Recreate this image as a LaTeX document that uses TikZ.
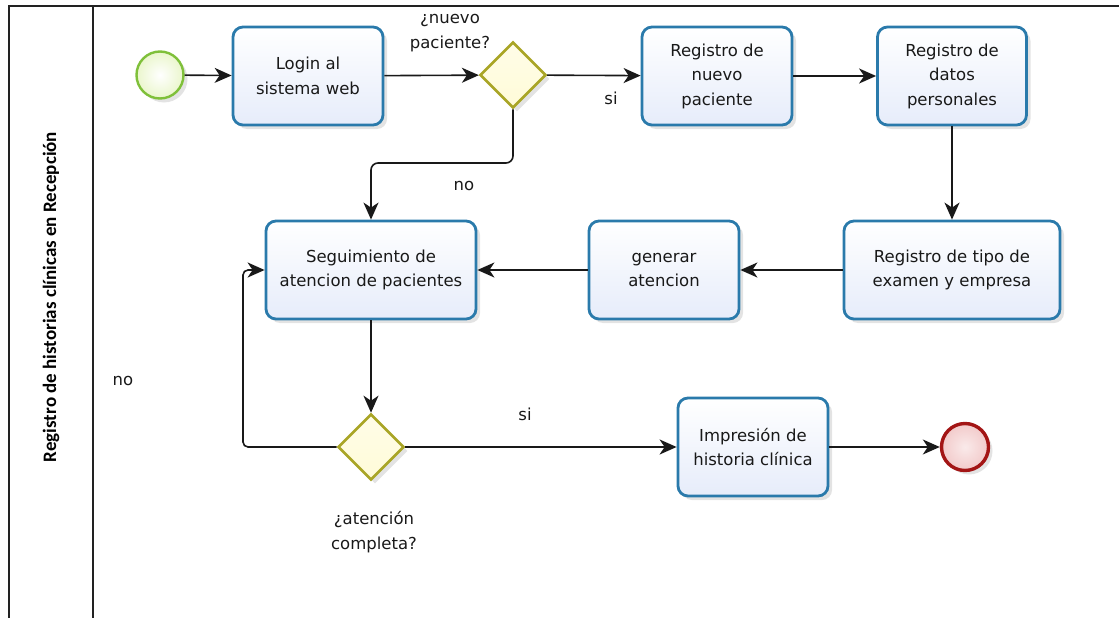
\documentclass[tikz,border=0pt]{standalone}
\usepackage{fontspec}
\setmainfont{DejaVu Sans}
\newfontfamily\lanefont{Carlito}
\usetikzlibrary{shapes.geometric,arrows.meta,shadows}
\definecolor{taskborder}{HTML}{2A7AAB}
\definecolor{taskfill}{HTML}{E6ECFA}
\definecolor{startborder}{HTML}{7FC03A}
\definecolor{startfill}{HTML}{EAF6CC}
\definecolor{gwborder}{HTML}{A9A526}
\definecolor{gwfill}{HTML}{FFFBD8}
\definecolor{endborder}{HTML}{A31515}
\definecolor{endfill}{HTML}{F2CACA}
\definecolor{frame}{HTML}{222222}
\begin{document}
\begin{tikzpicture}[x=1pt,y=-1pt,
  txt/.style={font=\fontsize{16.5}{24.5}\selectfont, text=black!90, align=center},
  shade/.style={drop shadow={opacity=0.22, shadow xshift=4pt, shadow yshift=-4pt}},
  task/.style={txt, draw=taskborder, line width=2.8pt, rounded corners=10pt,
    top color=white, bottom color=taskfill, minimum width=150pt, minimum height=98pt,
    inner sep=2pt, shade},
  gateway/.style={diamond, aspect=1, draw=gwborder, line width=2.6pt, top color=gwfill!60!white, bottom color=gwfill,
    minimum width=66pt, minimum height=66pt, inner sep=0pt, shade},
  startev/.style={circle, draw=startborder, line width=2.4pt, inner color=white, outer color=startfill,
    minimum size=47pt, inner sep=0pt, shade},
  endev/.style={circle, draw=endborder, line width=3.4pt, inner color=endfill!40!white, outer color=endfill,
    minimum size=47pt, inner sep=0pt, shade},
  flow/.style={draw=black!90, line width=1.6pt, -{Stealth[length=17pt,width=15pt,inset=5pt]}},
  lbl/.style={txt, inner sep=0pt}
]
\useasboundingbox (0,0) rectangle (1119,618);
% lane frame
\draw[frame, line width=2pt] (9,618) -- (9,6) -- (1119,6);
\draw[frame, line width=2pt] (93,6) -- (93,618);
\node[rotate=90, font=\lanefont\bfseries\fontsize{19}{22}\selectfont] (lane) at (51,297)
  {Registro de historias clínicas en Recepción};

% nodes
\node[startev] (start) at (160,75) {};
\node[task] (login) at (308,76) {Login al\\sistema web};
\node[gateway] (gw1) at (513,75) {};
\node[task] (nuevo) at (717,76) {Registro de\\nuevo\\paciente};
\node[task, minimum width=149pt] (datos) at (952,76) {Registro de\\datos\\personales};
\node[task, minimum width=210pt] (seg) at (371,270) {Seguimiento de\\atencion de pacientes};
\node[task] (gen) at (664,270) {generar\\atencion};
\node[task, minimum width=216pt] (tipo) at (952,270) {Registro de tipo de\\examen y empresa};
\node[gateway] (gw2) at (371,447) {};
\node[task] (imp) at (753,447) {Impresión de\\historia clínica};
\node[endev] (end) at (965,447) {};

% labels
\node[lbl] (q1) at (450,33) {¿nuevo\\paciente?};
\node[lbl] (si1) at (611,98) {si};
\node[lbl] (no1) at (464,186) {no};
\node[lbl] (no2) at (123,381) {no};
\node[lbl] (si2) at (525,414) {si};
\node[lbl] (q2) at (374,532) {¿atención\\completa?};

% connectors
\coordinate (j1) at (513,163);
\coordinate (j2) at (243,447);
\draw[flow] (start) -- (login);
\draw[flow] (login) -- (gw1);
\draw[flow] (gw1) -- (nuevo);
\draw[flow] (nuevo) -- (datos);
\draw[flow] (datos.south) -- (datos.south |- tipo.north);
\draw[flow] (tipo) -- (gen);
\draw[flow] (gen) -- (seg);
\draw[flow, rounded corners=7pt] (gw1.south) -- (j1) -| (seg.north);
\draw[flow] (seg) -- (gw2);
\draw[flow, rounded corners=5pt] (gw2.west) -- (j2) |- (seg.west);
\draw[flow] (gw2) -- (imp);
\draw[flow] (imp) -- (end);
\end{tikzpicture}
\end{document}
